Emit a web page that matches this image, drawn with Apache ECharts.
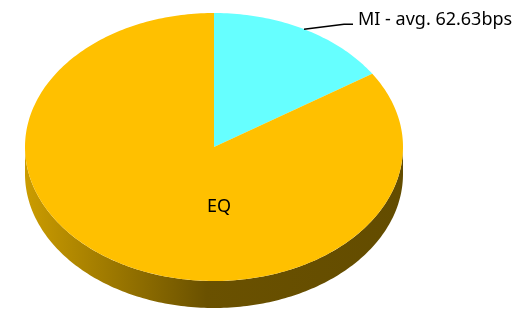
<!DOCTYPE html>
<html>
<head>
<meta charset="utf-8">
<script src="https://cdn.jsdelivr.net/npm/echarts@6/dist/echarts.min.js"></script>
<style>
  html, body { margin: 0; padding: 0; background: #fff; }
  #main { width: 530px; height: 312px; }
</style>
</head>
<body>
<div id="main"></div>
<script>
var categories = ['MI', 'EQ'];
var values = [15.8, 84.2];
var labels = ['MI - avg. 62.63bps', 'EQ'];
var colors = ['#66FFFF', '#FFC000'];

var chart = echarts.init(document.getElementById('main'));

var total = values.reduce(function (a, b) { return a + b; }, 0);

// 3d pie geometry (ellipse top face + front wall)
var cx = 214, cy = 147, rx = 189, ry = 134, depth = 27;

function pt(a, dy) {
  var r = a * Math.PI / 180;
  return [cx + rx * Math.cos(r), cy - ry * Math.sin(r) + (dy || 0)];
}

// clockwise arc from a0 down to a1 (degrees)
function arc(a0, a1, dy) {
  var pts = [];
  var n = Math.max(2, Math.ceil(a0 - a1));
  for (var i = 0; i <= n; i++) {
    pts.push(pt(a0 - (a0 - a1) * i / n, dy));
  }
  return pts;
}

function startAngle(idx) {
  var s = 0;
  for (var i = 0; i < idx; i++) s += values[i];
  return 90 - s / total * 360;
}

function renderItem(params, api) {
  var idx = params.dataIndex;
  var v = api.value(0);
  var a0 = startAngle(idx);
  var a1 = a0 - v / total * 360;
  var children = [];

  // front wall: the part of the slice facing the viewer
  [-360, 0, 360].forEach(function (k) {
    var hi = Math.min(a0, 0 + k), lo = Math.max(a1, -180 + k);
    if (hi <= lo) return;
    var top = arc(hi, lo, 0);
    var bot = arc(hi, lo, depth).reverse();
    children.push({
      type: 'polygon',
      z2: 1,
      shape: { points: top.concat(bot) },
      style: {
        fill: new echarts.graphic.LinearGradient(0, 0, 1, 0, [
          { offset: 0, color: '#cb9c00' },
          { offset: 0.48, color: '#6a5100' },
          { offset: 1, color: '#634c00' }
        ])
      }
    });
  });

  // top face
  children.push({
    type: 'polygon',
    z2: 2,
    shape: { points: [[cx, cy]].concat(arc(a0, a1, 0)) },
    style: { fill: colors[idx] }
  });

  var mid = (a0 + a1) / 2;
  if (v / total < 0.25) {
    // outside label with leader line
    var p = pt(mid, 0);
    var p2 = [p[0] + 40, p[1] - 5];
    var p3 = [p2[0] + 9, p2[1]];
    children.push({
      type: 'polyline',
      z2: 3,
      shape: { points: [p, p2, p3] },
      style: { stroke: '#000', lineWidth: 1.5, fill: null }
    });
    children.push({
      type: 'text',
      z2: 3,
      style: {
        x: p3[0] + 5, y: p3[1] - 4,
        text: labels[idx],
        fill: '#000',
        font: '18px "Noto Sans"',
        align: 'left',
        verticalAlign: 'middle'
      }
    });
  } else {
    children.push({
      type: 'text',
      z2: 3,
      style: {
        x: cx + 5, y: cy + ry * 0.45,
        text: labels[idx],
        fill: '#000',
        font: '18px "Noto Sans"',
        align: 'center',
        verticalAlign: 'middle'
      }
    });
  }

  return { type: 'group', children: children };
}

var option = {
  animation: false,
  series: [{
    type: 'custom',
    coordinateSystem: 'none',
    silent: true,
    renderItem: renderItem,
    data: values.map(function (v, i) {
      return { name: categories[i], value: [v] };
    })
  }]
};

chart.setOption(option);
</script>
</body>
</html>
